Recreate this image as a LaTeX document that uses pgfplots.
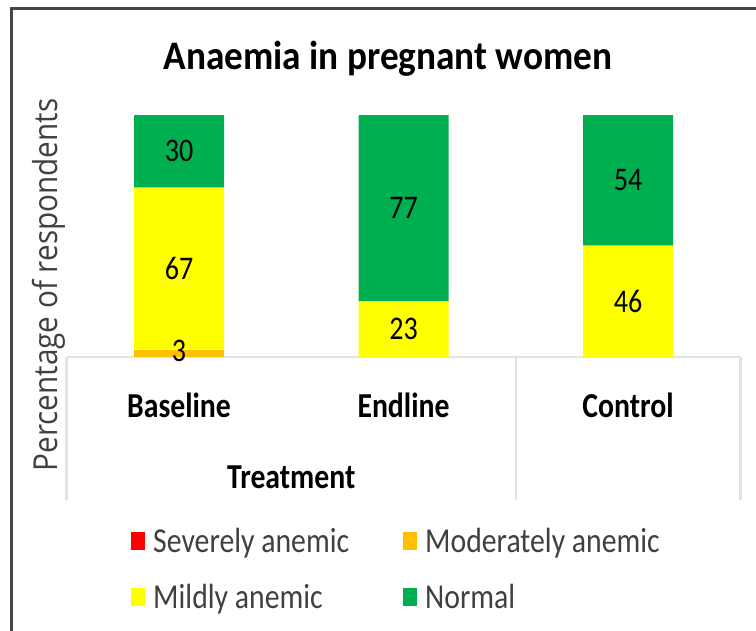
\documentclass[border=0pt]{standalone}
\usepackage{pgfplots}
\pgfplotsset{compat=1.18}
\usepackage{fontspec}
\setmainfont{Carlito}[FakeStretch=0.85]
\newfontfamily\titlefont{Carlito}[FakeStretch=0.92]
\newfontfamily\ylabfont{Open Sans}[FakeStretch=0.9]
\definecolor{sev}{HTML}{FF0000}
\definecolor{mod}{HTML}{FFC000}
\definecolor{mild}{HTML}{FFFF00}
\definecolor{norm}{HTML}{00B050}
\definecolor{framec}{HTML}{454545}
\definecolor{sepc}{HTML}{E3E3E3}
\definecolor{txt}{HTML}{404040}
\begin{document}
\begin{tikzpicture}
\path[use as bounding box] (0,0) rectangle (756pt,-631pt);
\fill[framec] (10pt,-7pt) rectangle (756pt,-10pt);
\fill[framec] (10pt,-7pt) rectangle (13pt,-631pt);
\begin{axis}[
  at={(66.75pt,-357pt)}, anchor=south west,
  scale only axis, width=673.5pt, height=242pt,
  xmin=-0.5, xmax=2.5, ymin=0, ymax=100,
  ybar stacked, bar width=90pt,
  axis x line*=bottom, axis y line=none,
  x axis line style={draw=sepc, line width=2.5pt, -},
  xtick={0,1,2}, xticklabels={Baseline,Endline,Control},
  major tick length=0pt,
  xticklabel style={font=\bfseries\fontsize{35}{40}\selectfont, anchor=base, yshift=-60pt},
  clip=false,
  legend columns=2,
  legend cell align=left,
  legend style={at={(0.091,-0.69)}, anchor=north west, draw=none, fill=none,
     font=\fontsize{35}{40}\selectfont\color{txt},
     /tikz/every even column/.append style={column sep=52pt},
     /tikz/every odd column/.append style={column sep=6pt},
     row sep=26pt},
  legend image code/.code={\fill[#1] (0pt,-9pt) rectangle (14pt,9pt);},
]
\addplot[fill=sev, draw=none] coordinates {(0,0) (1,0) (2,0)};
\addplot[fill=mod, draw=none] coordinates {(0,3) (1,0) (2,0)};
\addplot[fill=mild, draw=none] coordinates {(0,67) (1,23) (2,46)};
\addplot[fill=norm, draw=none] coordinates {(0,30) (1,77) (2,54)};
\legend{Severely anemic, Moderately anemic, Mildly anemic, Normal}
\draw[sepc, line width=2.5pt] (axis cs:-0.5,0) -- (axis cs:-0.5,-59);
\draw[sepc, line width=2.5pt] (axis cs:1.5,0) -- (axis cs:1.5,-59);
\draw[sepc, line width=2.5pt] (axis cs:2.5,0) -- (axis cs:2.5,-59);
\node[anchor=base, font=\bfseries\fontsize{35}{40}\selectfont] at (axis cs:0.5,0) [yshift=-131pt] {Treatment};
\node[rotate=90, font=\ylabfont\fontsize{33}{38}\selectfont, text=txt] at (rel axis cs:-0.026,0.2975) {Percentage of respondents};
\end{axis}
\begin{axis}[
  at={(66.75pt,-357pt)}, anchor=south west,
  scale only axis, width=673.5pt, height=242pt,
  xmin=-0.5, xmax=2.5, ymin=0, ymax=100,
  hide axis, clip=false,
]
\addplot[draw=none, mark=none, nodes near coords, point meta=explicit symbolic,
  every node near coord/.style={anchor=center, font=\fontsize{33}{38}\selectfont, text=black}]
  coordinates {(0,2.5)[3] (0,36.5)[67] (0,85)[30] (1,11.5)[23] (1,61.5)[77] (2,23)[46] (2,73)[54]};
\end{axis}
\node[anchor=base, font=\titlefont\bfseries\fontsize{40.5}{46}\selectfont] at (388pt,-70pt) {Anaemia in pregnant women};
\end{tikzpicture}
\end{document}
